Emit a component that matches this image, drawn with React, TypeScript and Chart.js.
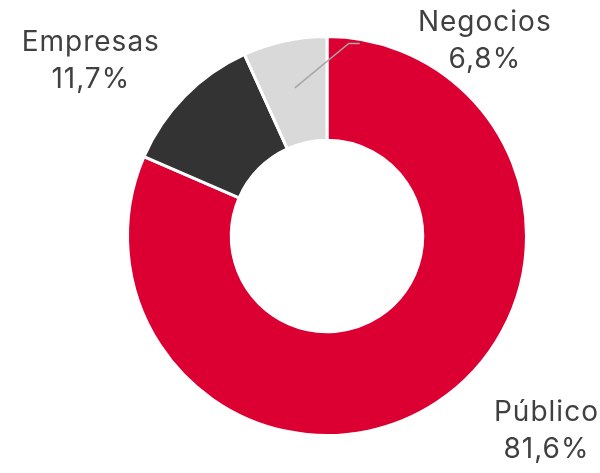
import React, { useEffect, useRef } from "react";
import { Chart, registerables } from "chart.js";

Chart.register(...registerables);

const categories = ["Público", "Empresas", "Negocios"];
const values = [81.6, 11.7, 6.8];
const valueLabels = ["81,6%", "11,7%", "6,8%"];
const colors = ["#DC0032", "#333333", "#D9D9D9"];

// label centres relative to the chart centre, in units of the outer radius
const labelOffsets = [
  [1.1, 0.98],
  [-1.184, -0.878],
  [0.791, -0.977],
];

const labelPlugin = {
  id: "sliceLabels",
  afterDatasetsDraw(chart: any) {
    const ctx = chart.ctx;
    const meta = chart.getDatasetMeta(0);
    const arcs = meta.data;
    if (!arcs.length) return;
    const cx = arcs[0].x;
    const cy = arcs[0].y;
    const R = arcs[0].outerRadius;
    ctx.save();
    // leader line for the smallest slice
    const small = arcs[2];
    const mid = (small.startAngle + small.endAngle) / 2;
    const rr = (small.innerRadius + small.outerRadius) / 2 + 4;
    const sx = cx + rr * Math.cos(mid);
    const sy = cy + rr * Math.sin(mid);
    const ey = cy - 0.965 * R;
    ctx.strokeStyle = "#A6A6A6";
    ctx.lineWidth = 1.5;
    ctx.beginPath();
    ctx.moveTo(sx, sy);
    ctx.lineTo(cx + 0.109 * R, ey);
    ctx.lineTo(cx + 0.164 * R, ey);
    ctx.stroke();

    ctx.fillStyle = "#404040";
    ctx.font = "28px Inter, sans-serif";
    (ctx as any).letterSpacing = "1px";
    ctx.textAlign = "center";
    ctx.textBaseline = "middle";
    const lh = 37;
    categories.forEach((c, i) => {
      const x = cx + labelOffsets[i][0] * R;
      const y = cy + labelOffsets[i][1] * R;
      ctx.fillText(c, x, y - lh / 2);
      ctx.fillText(valueLabels[i], x, y + lh / 2);
    });
    ctx.restore();
  },
};

export default function App() {
  const ref = useRef<HTMLCanvasElement>(null);
  useEffect(() => {
    if (!ref.current) return;
    const chart = new Chart(ref.current, {
      type: "doughnut",
      data: {
        labels: categories,
        datasets: [
          {
            data: values,
            backgroundColor: colors,
            borderColor: "#FFFFFF",
            borderWidth: 3,
          },
        ],
      },
      options: {
        responsive: false,
        animation: false,
        cutout: "48%",
        layout: { padding: { left: 126, right: 72, top: 35, bottom: 36 } },
        events: [],
        plugins: {
          legend: { display: false },
          tooltip: { enabled: false },
        },
      },
      plugins: [labelPlugin],
    });
    return () => chart.destroy();
  }, []);
  return (
    <div style={{ position: "absolute", left: 0, top: 0, width: 600, height: 473, background: "#fff" }}>
      <canvas ref={ref} width={600} height={473} />
    </div>
  );
}
